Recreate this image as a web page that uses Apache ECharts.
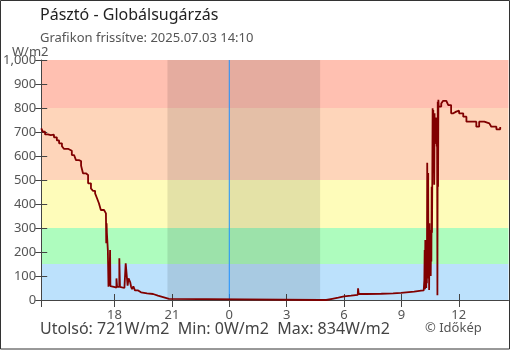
<!DOCTYPE html>
<html>
<head>
<meta charset="utf-8">
<script src="https://cdn.jsdelivr.net/npm/echarts@6/dist/echarts.min.js"></script>
<style>
  html, body { margin: 0; padding: 0; background: #fff; }
  #chart { width: 510px; height: 350px; }
</style>
</head>
<body>
<div id="chart"></div>
<script>
// Global radiation, Pásztó — 24 hours of readings (W/m2)
const times = [
  "07-02 14:10","07-02 14:15","07-02 14:22","07-02 14:31","07-02 14:40","07-02 14:50","07-02 14:59",
  "07-02 15:06","07-02 15:15","07-02 15:21","07-02 15:34","07-02 15:46","07-02 15:53","07-02 15:59",
  "07-02 16:08","07-02 16:15","07-02 16:21","07-02 16:30","07-02 16:37","07-02 16:46","07-02 16:52",
  "07-02 16:59","07-02 17:05","07-02 17:11","07-02 17:17","07-02 17:27","07-02 17:33","07-02 17:34",
  "07-02 17:35","07-02 17:36","07-02 17:39","07-02 17:41","07-02 17:43","07-02 17:44","07-02 17:46",
  "07-02 17:47","07-02 17:49","07-02 17:58","07-02 18:06","07-02 18:08","07-02 18:15","07-02 18:17",
  "07-02 18:23","07-02 18:31","07-02 18:35","07-02 18:39","07-02 18:41","07-02 18:44","07-02 18:49",
  "07-02 18:52","07-02 18:55","07-02 18:59","07-02 19:04","07-02 19:14","07-02 19:23","07-02 19:42",
  "07-02 20:01","07-02 20:16","07-02 20:35","07-02 20:51",
  "07-03 04:45","07-03 05:04","07-03 05:23","07-03 05:42","07-03 06:00","07-03 06:22","07-03 06:43",
  "07-03 06:44","07-03 06:46","07-03 07:10","07-03 07:57","07-03 08:34","07-03 08:59","07-03 09:40",
  "07-03 10:02","07-03 10:10","07-03 10:12","07-03 10:13","07-03 10:14","07-03 10:15","07-03 10:16",
  "07-03 10:17","07-03 10:18","07-03 10:19","07-03 10:20","07-03 10:21","07-03 10:22","07-03 10:23",
  "07-03 10:24","07-03 10:25","07-03 10:26","07-03 10:27","07-03 10:28","07-03 10:29","07-03 10:30",
  "07-03 10:31","07-03 10:32","07-03 10:33","07-03 10:34","07-03 10:35","07-03 10:36","07-03 10:37",
  "07-03 10:38","07-03 10:39","07-03 10:40","07-03 10:41","07-03 10:42","07-03 10:43","07-03 10:44",
  "07-03 10:45","07-03 10:46","07-03 10:47","07-03 10:48","07-03 10:50","07-03 10:51","07-03 10:52",
  "07-03 10:53","07-03 10:54","07-03 10:55","07-03 10:56","07-03 10:57",
  "07-03 11:05","07-03 11:11","07-03 11:21","07-03 11:27","07-03 11:36","07-03 11:43","07-03 11:52",
  "07-03 12:01","07-03 12:14","07-03 12:24","07-03 12:39","07-03 12:55","07-03 13:04","07-03 13:20",
  "07-03 13:36","07-03 13:42","07-03 13:58","07-03 14:10"
];
const radiation = [
  715,701,690,687,689,678,665,
  653,641,630,622,604,598,583,
  579,560,528,521,486,465,455,
  444,424,403,375,371,361,237,
  320,279,208,55,146,60,208,
  58,55,52,90,55,174,55,
  50,45,153,153,60,90,75,
  55,45,57,40,32,28,25,
  18,11,5,0,
  0,5,10,15,18,21,24,
  49,25,26,28,30,35,39,
  40,40,83,208,45,250,60,
  230,50,180,70,572,110,240,
  529,90,220,42,320,120,250,
  292,100,260,160,472,280,520,
  799,560,792,600,695,480,778,
  650,740,700,760,737,640,720,
  20,826,472,834,806,
  819,830,829,812,778,785,789,
  778,764,743,743,722,743,736,
  743,722,711,721
];

// Radiation bands on the value axis
const bandLimits = [0, 150, 300, 500, 800, 1000];
const bandColors = ["#bce1fc", "#aefcbe", "#fefcba", "#fed5ba", "#ffc0b1"];

// Night (sunset → sunrise) and midnight, as clock times
const nightStart = "07-02 20:46";
const nightEnd = "07-03 04:45";
const midnight = "07-03 00:00";

// Axis range and labelled hours
const axisStart = "07-02 14:10";
const axisEnd = "07-03 14:36";
const hourTicks = ["07-02 18:00","07-02 21:00","07-03 00:00","07-03 03:00","07-03 06:00","07-03 09:00","07-03 12:00"];

const titleText = "Pásztó - Globálsugárzás";
const subtitleText = "Grafikon frissítve: 2025.07.03 14:10";
const unitText = "W/m2";
const summaryText = "Utolsó: 721W/m2  Min: 0W/m2  Max: 834W/m2";
const creditText = "© Időkép";

// "MM-DD HH:MM" → hours counted from 07-02 00:00
function toHours(s) {
  const day = parseInt(s.slice(3, 5), 10) - 2;
  const h = parseInt(s.slice(6, 8), 10);
  const m = parseInt(s.slice(9, 11), 10);
  return day * 24 + h + m / 60;
}

const lineData = times.map((t, i) => [toHours(t), radiation[i]]);
const tickHours = hourTicks.map(toHours);
const xMin = toHours(axisStart);
const xMax = toHours(axisEnd);
const yMax = bandLimits[bandLimits.length - 1];

const bandAreas = bandColors.map((c, i) => [
  { yAxis: bandLimits[i], itemStyle: { color: c, opacity: 1 } },
  { yAxis: bandLimits[i + 1] }
]);

const font = "'Noto Sans', 'Open Sans', sans-serif";
const chart = echarts.init(document.getElementById('chart'), null, { renderer: 'canvas' });

chart.setOption({
  animation: false,
  backgroundColor: '#ffffff',
  grid: { left: 40, right: 1.5, top: 60, bottom: 50, containLabel: false },
  xAxis: [
    {
      type: 'value', min: xMin, max: xMax,
      axisLine: { show: true, onZero: false, lineStyle: { color: '#444', width: 1 } },
      axisTick: { show: true, inside: false, length: 7, customValues: [xMin].concat(tickHours), lineStyle: { color: '#444' } },
      axisLabel: {
        show: true, customValues: tickHours, margin: 9,
        color: '#555', fontSize: 13, fontFamily: font,
        formatter: v => String(Math.round(v) % 24)
      },
      splitLine: { show: false }
    },
    {
      type: 'value', min: xMin, max: xMax, position: 'bottom', offset: 0,
      axisLine: { show: false, onZero: false },
      axisTick: { show: true, inside: true, length: 6, customValues: tickHours, lineStyle: { color: '#444' } },
      axisLabel: { show: false },
      splitLine: { show: false }
    }
  ],
  yAxis: [
    {
      type: 'value', min: 0, max: yMax, interval: 100,
      axisLine: { show: true, onZero: false, lineStyle: { color: '#444', width: 1 } },
      axisTick: { show: true, inside: false, length: 6, lineStyle: { color: '#444' } },
      axisLabel: { color: '#555', fontSize: 13, fontFamily: font, margin: 5 },
      splitLine: { show: false }
    },
    {
      type: 'value', min: 0, max: yMax, interval: 100, position: 'left', offset: 0,
      axisLine: { show: false, onZero: false },
      axisTick: { show: true, inside: true, length: 6, lineStyle: { color: '#444' } },
      axisLabel: { show: false },
      splitLine: { show: false }
    }
  ],
  series: [
    {
      name: 'bands', type: 'line', data: [], z: 1, silent: true,
      markArea: { silent: true, z: 0, data: bandAreas }
    },
    {
      name: 'night', type: 'line', data: [], z: 2, silent: true,
      markArea: {
        silent: true, z: 1,
        itemStyle: { color: 'rgba(0,0,0,0.1)' },
        data: [[{ xAxis: toHours(nightStart) }, { xAxis: toHours(nightEnd) }]]
      }
    },
    {
      // vertical marker at midnight, spanning the full value range
      name: 'midnight', type: 'line', z: 3, silent: true,
      data: [[toHours(midnight), 0], [toHours(midnight), yMax]],
      showSymbol: false, symbol: 'none',
      lineStyle: { color: '#1e90ff', width: 1 }
    },
    {
      name: 'radiation', type: 'line', data: lineData, z: 4,
      step: 'end', showSymbol: false, symbol: 'none',
      lineStyle: { color: '#800000', width: 1.8 }
    }
  ],
  graphic: [
    { type: 'rect', shape: { x: 0.5, y: 0.5, width: 509, height: 348.5 }, style: { fill: 'none', stroke: '#333', lineWidth: 1 }, z: 100 },
    { type: 'text', left: 40, top: 7, style: { text: titleText, fill: '#222', font: '16px ' + font } },
    { type: 'text', left: 40, top: 32, style: { text: subtitleText, fill: '#555', font: '13px ' + font } },
    { type: 'text', left: 12, top: 46, style: { text: unitText, fill: '#555', font: '13px ' + font } },
    { type: 'text', left: 40, top: 321, style: { text: summaryText, fill: '#444', font: '16px ' + font } },
    { type: 'text', left: 425, top: 322, style: { text: creditText, fill: '#555', font: '13px ' + font } }
  ]
});
</script>
</body>
</html>
